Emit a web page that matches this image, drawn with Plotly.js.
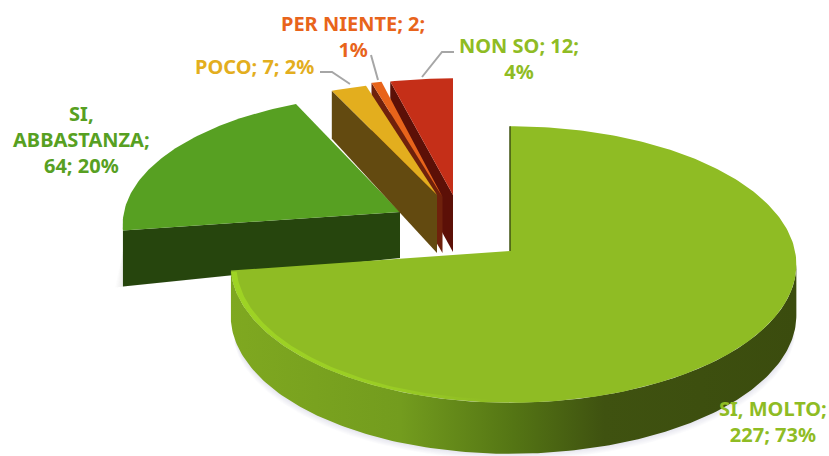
<!DOCTYPE html>
<html>
<head>
<meta charset="utf-8">
<script src="https://cdn.plot.ly/plotly-3.0.1.min.js"></script>
<style>html,body{margin:0;padding:0;background:#fff}#chart{width:829px;height:456px}</style>
</head>
<body>
<div id="chart"></div>
<script>
var categories = ["SI, MOLTO", "SI, ABBASTANZA", "POCO", "PER NIENTE", "NON SO"];
var counts = [227, 64, 7, 2, 12];
var percents = [73, 20, 2, 1, 4];
var labelTemplates = ["{c};<br>{n}; {p}%", "SI,<br>ABBASTANZA;<br>{n}; {p}%", "{c}; {n}; {p}%", "{c}; {n};<br>{p}%", "{c}; {n};<br>{p}%"];
var faceColors = ["#8fbc24", "#57a022", "#e3ae1e", "#e8641b", "#c52f18"];
var wallColors = ["#3f5210", "#26450d", "#634a10", "#6f210c", "#5c1007"];
var labelColors = ["#8fbc24", "#57a022", "#e3ae1e", "#e8641b", "#8fbc24"];
// exploded-pie projection of each slice: apex x, apex y, radii, wall depth at apex / rim
var apexX = [510, 400, 437, 442.5, 453];
var apexY = [251, 212, 195, 197, 195];
var radXRight = [285, 276, 279, 279, 287];
var radXLeft = [278, 276, 279, 279, 287];
var radY = [137, 129, 124.5, 130, 128];
var depthApex = [51, 46, 58, 56, 57];
var depthRim = [51, 56, 48, 50, 57];
var persp = 0.0975;
var labelX = [773, 81, 254, 353, 519];
var labelY = [421, 139, 66, 36, 58];
var leaders = [[[422,442,454],[77,52,52]], [[378,371],[80,55]], [[350,332,320],[84,72,72]]];

var total = counts.reduce(function(a,b){return a+b;},0);
var starts = [], acc = 0;
counts.forEach(function(v){ starts.push(acc/total*2*Math.PI); acc += v; });
function endOf(i){ return starts[i] + counts[i]/total*2*Math.PI; }
function pt(i,t,dy,s){
  s = s===undefined?1:s;
  var u=Math.sin(t), v=Math.cos(t), den=1+persp*v;
  var r=u<0?radXLeft[i]:radXRight[i];
  return [apexX[i]+s*r*u/den, apexY[i]-s*radY[i]*v/den+(dy||0)];
}
function arc(i,a,b,dy,s){
  var n=Math.max(8,Math.round(Math.abs(b-a)*60)), out=[];
  for(var k=0;k<=n;k++) out.push(pt(i,a+(b-a)*k/n,dy,s));
  return out;
}
function poly(points,color,extra){
  var tr={x:points.map(function(p){return p[0];}),y:points.map(function(p){return p[1];}),
    mode:'lines',fill:'toself',fillcolor:color,line:{width:0,color:color},hoverinfo:'skip',showlegend:false};
  for(var k in (extra||{})) tr[k]=extra[k];
  return tr;
}
function face(i){ return poly([[apexX[i],apexY[i]]].concat(arc(i,starts[i],endOf(i))),faceColors[i]); }
function radialWall(i,t){
  var c=pt(i,t);
  return poly([[apexX[i],apexY[i]],c,[c[0],c[1]+depthRim[i]],[apexX[i],apexY[i]+depthApex[i]]],wallColors[i]);
}
// layered shadow that tapers to nothing at both ends of the rim
function taperedShadow(points,cx,cy,layers,grow,alpha){
  var out=[], n=points.length-1;
  for(var l=layers;l>=1;l--){
    var pts=points.map(function(p,k){
      var f=1+grow*(l/layers)*Math.pow(Math.sin(Math.PI*k/n),0.6);
      return [cx+(p[0]-cx)*f,cy+(p[1]-cy)*f];
    });
    out.push(poly(pts,'rgba(90,90,100,'+alpha+')'));
  }
  return out;
}
var traces=[];
var wallStart=95.6*Math.PI/180, bigEnd=endOf(0);
var bigWall=arc(0,wallStart,bigEnd).concat(arc(0,bigEnd,wallStart,depthRim[0]));
// shadow of SI, ABBASTANZA
var abbCorner=pt(1,starts[1]);
traces=traces.concat(taperedShadow([[abbCorner[0],abbCorner[1]+20],[abbCorner[0],abbCorner[1]+depthRim[1]],[apexX[1],apexY[1]+depthApex[1]],[apexX[1],apexY[1]+20]],apexX[1],apexY[1]+30,6,0.03,0.02));
// SI, ABBASTANZA
traces.push(radialWall(1,starts[1]));
traces.push(face(1));
// NON SO, PER NIENTE, POCO from back to front
[4,3,2].forEach(function(i){ traces.push(radialWall(i,starts[i])); traces.push(face(i)); });
// side shadow of SI, MOLTO
traces=traces.concat(taperedShadow(arc(0,bigEnd-0.12,wallStart+0.12,depthRim[0]),510,330,8,0.05,0.016));
// SI, MOLTO
traces.push(poly(bigWall,wallColors[0],{fillgradient:{type:'horizontal',colorscale:[[0,'#7fa820'],[0.3,'#739c1e'],[0.5,'#547514'],[0.66,'#3f5210'],[1,'#3b4c0e']]}}));
traces.push(face(0));
// bright bevel on the front-left rim
var hlA=Math.PI*1.02;
var hl=arc(0,bigEnd-0.01,hlA).concat(arc(0,hlA,bigEnd-0.01,0,0.98));
traces.push(poly(hl,'#9fd424',{fillgradient:{type:'horizontal',colorscale:[[0,'rgba(160,214,36,0.9)'],[0.6,'rgba(160,214,36,0.65)'],[1,'rgba(160,214,36,0)']]}}));
// dark inner edge of the big slice
var bigTop=pt(0,0);
traces.push({x:[bigTop[0],apexX[0]],y:[bigTop[1],apexY[0]],mode:'lines',line:{color:'#3f5210',width:1.5},hoverinfo:'skip',showlegend:false});
// leader lines
leaders.forEach(function(l){ traces.push({x:l[0],y:l[1],mode:'lines',line:{color:'#a6a6a6',width:2},hoverinfo:'skip',showlegend:false}); });

var annotations=categories.map(function(c,i){
  return {x:labelX[i],y:labelY[i],xref:'x',yref:'y',showarrow:false,align:'center',xanchor:'center',yanchor:'middle',
    text:'<b>'+labelTemplates[i].replace('{c}',c).replace('{n}',counts[i]).replace('{p}',percents[i])+'</b>',
    font:{family:'"Noto Sans", sans-serif',size:20,color:labelColors[i]}};
});
var layout={width:829,height:456,margin:{l:0,r:0,t:0,b:0},paper_bgcolor:'#fff',plot_bgcolor:'#fff',showlegend:false,
  xaxis:{range:[0,829],visible:false,fixedrange:true},yaxis:{range:[456,0],visible:false,fixedrange:true},annotations:annotations};
Plotly.newPlot('chart',traces,layout,{displayModeBar:false,staticPlot:true});
</script>
</body>
</html>
